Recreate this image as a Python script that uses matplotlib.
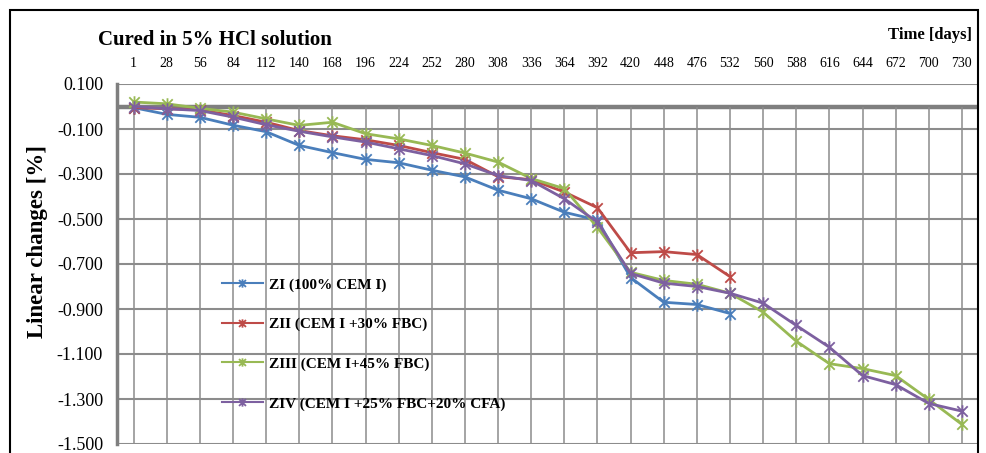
import matplotlib
matplotlib.use('Agg')
from matplotlib import pyplot as plt
from matplotlib.path import Path
from matplotlib.patches import Rectangle

days = ['1', '28', '56', '84', '112', '140', '168', '196', '224', '252', '280', '308', '336',
        '364', '392', '420', '448', '476', '532', '560', '588', '616', '644', '672', '700', '730']

zi = [-0.005, -0.035, -0.048, -0.083, -0.112, -0.173, -0.205, -0.235, -0.250, -0.283,
      -0.313, -0.372, -0.410, -0.470, -0.505, -0.760, -0.870, -0.880, -0.920]
zii = [-0.005, -0.010, -0.015, -0.040, -0.070, -0.107, -0.130, -0.148, -0.173, -0.205,
       -0.235, -0.312, -0.325, -0.380, -0.450, -0.650, -0.645, -0.658, -0.756]
ziii = [0.020, 0.012, -0.008, -0.025, -0.055, -0.084, -0.070, -0.121, -0.144, -0.173,
        -0.207, -0.247, -0.320, -0.365, -0.537, -0.737, -0.773, -0.790, -0.830, -0.914,
        -1.043, -1.143, -1.165, -1.196, -1.302, -1.413]
ziv = [0.000, -0.010, -0.018, -0.047, -0.081, -0.110, -0.135, -0.158, -0.188, -0.218,
       -0.255, -0.307, -0.329, -0.410, -0.514, -0.742, -0.785, -0.800, -0.830, -0.874,
       -0.973, -1.070, -1.196, -1.236, -1.320, -1.354]

labels = ['ZI (100% CEM I)', 'ZII (CEM I +30% FBC)', 'ZIII (CEM I+45% FBC)',
          'ZIV (CEM I +25% FBC+20% CFA)']
colors = ['#4A7EBB', '#BE4B48', '#98B954', '#7D60A0']
yticks = [0.1, -0.1, -0.3, -0.5, -0.7, -0.9, -1.1, -1.3, -1.5]

plt.rcParams['font.family'] = ['Liberation Serif', 'DejaVu Serif']
plt.rcParams['axes.unicode_minus'] = False

# excel "star" marker: a cross with a vertical bar
star = Path([(-1, -1), (1, 1), (-1, 1), (1, -1), (0, -1.2), (0, 1.2)],
            [Path.MOVETO, Path.LINETO, Path.MOVETO, Path.LINETO, Path.MOVETO, Path.LINETO])

fig = plt.figure(figsize=(9.87, 4.53), dpi=100)
ax = fig.add_axes([117 / 987, 9 / 453, 861.5 / 987, 360 / 453])

x = list(range(len(days)))
for yv in yticks:
    ax.axhline(yv, color='#8c8c8c', lw=1.5, zorder=1)
ax.axhline(0, color='#7f7f7f', lw=3.2, zorder=1)
ax.vlines(x, -1.5, 0, color='#8c8c8c', lw=1.1, zorder=1)

for ys, lab, c in zip([zi, zii, ziii, ziv], labels, colors):
    ax.plot(x[:len(ys)], ys, color=c, lw=2, marker=star, markersize=9,
            markeredgewidth=1.3, label=lab, zorder=3)

ax.set_xlim(-0.5, len(days) - 0.5)
ax.set_ylim(-1.5, 0.1)
ax.set_yticks(yticks)
ax.set_yticklabels(['%.3f' % v for v in yticks], fontsize=13)
ax.set_xticks(x)
ax.set_xticklabels(days, fontsize=10)
ax.tick_params(axis='x', top=True, labeltop=True, bottom=False, labelbottom=False,
               length=0, pad=10)
ax.tick_params(axis='y', length=0, pad=10)
for s in ['top', 'right', 'bottom']:
    ax.spines[s].set_visible(False)
ax.spines['left'].set_color('#7f7f7f')
ax.spines['left'].set_linewidth(2.5)

leg = ax.legend(loc='upper left', bbox_to_anchor=(0.122, 0.461), frameon=False,
                borderpad=0, borderaxespad=0, handlelength=2.65, handletextpad=0.4,
                labelspacing=1.68, prop={'weight': 'bold', 'size': 11})
for h in leg.legend_handles:
    h.set_linewidth(1.5)
    h.set_markersize(6)

fig.text(98 / 987, 1 - 40 / 453, 'Cured in 5% HCl solution', fontsize=15,
         fontweight='bold', ha='left', va='center')
fig.text(972 / 987, 1 - 35 / 453, 'Time [days]', fontsize=12, fontweight='bold',
         ha='right', va='center')
fig.text(38 / 987, 1 - 241 / 453, 'Linear changes [%]', fontsize=16.5, fontweight='bold',
         rotation=90, ha='center', va='center')

fig.patches.append(Rectangle((10 / 987, -0.05), 968 / 987, 1.05 - 10 / 453,
                             transform=fig.transFigure, fill=False, edgecolor='black',
                             lw=1.5))

plt.savefig('out.png', dpi=100)
